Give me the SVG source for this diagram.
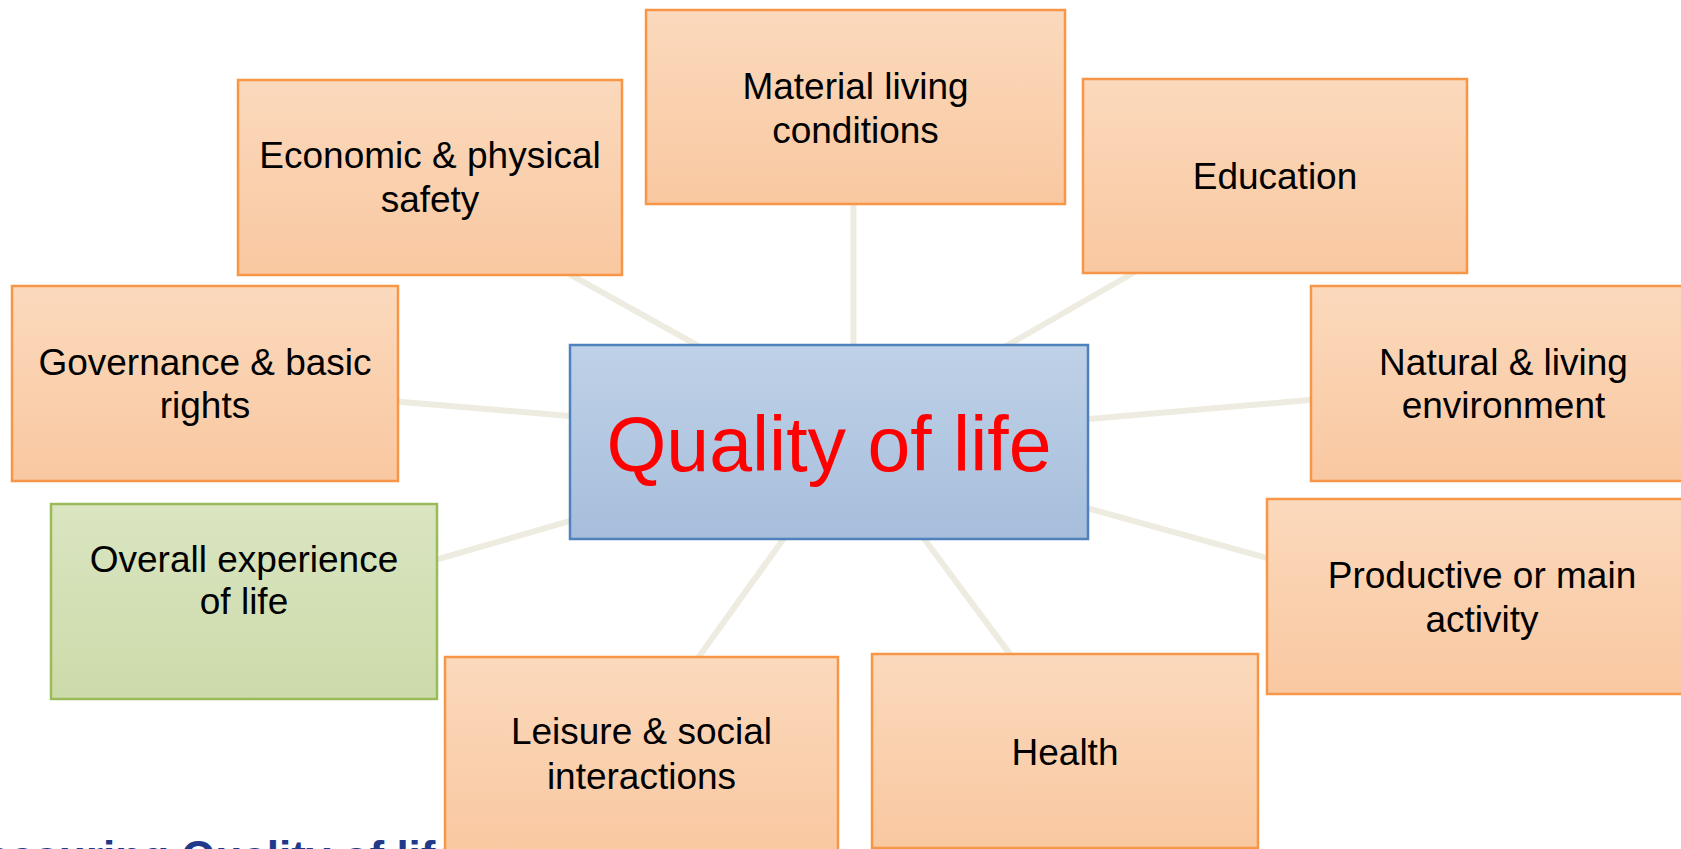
<svg xmlns="http://www.w3.org/2000/svg" width="1681" height="849" viewBox="0 0 1681 849">
<defs>
<linearGradient id="gOrange" x1="0" y1="0" x2="0" y2="1">
<stop offset="0" stop-color="#FBD9BC"/>
<stop offset="1" stop-color="#F9C8A1"/>
</linearGradient>
<linearGradient id="gBlue" x1="0" y1="0" x2="0" y2="1">
<stop offset="0" stop-color="#BFD1E7"/>
<stop offset="1" stop-color="#A6BEDC"/>
</linearGradient>
<linearGradient id="gGreen" x1="0" y1="0" x2="0" y2="1">
<stop offset="0" stop-color="#DAE5C1"/>
<stop offset="1" stop-color="#CCDBAA"/>
</linearGradient>
<style>
.conn{stroke:#EEECE1;stroke-width:6;fill:none}
.orange{fill:url(#gOrange);stroke:#F79646;stroke-width:2.5}
.blue{fill:url(#gBlue);stroke:#4F81BD;stroke-width:2.5}
.green{fill:url(#gGreen);stroke:#9BBB59;stroke-width:2.5}
.lbl{font-family:"Liberation Sans",Arial,sans-serif;font-size:37px;fill:#000;text-anchor:middle}
.main{font-family:"Liberation Sans",Arial,sans-serif;font-size:77px;fill:#FF0000;text-anchor:middle}
.title{font-family:"Liberation Sans",Arial,sans-serif;font-size:44px;font-weight:bold;fill:#1F3A8A}
</style>
</defs>
<rect width="1681" height="849" fill="#FFFFFF"/>
<text class="title" x="-51" y="872">Measuring Quality of life</text>
<g id="connectors">
<line class="conn" x1="565" y1="271.7" x2="705" y2="349.6"/>
<line class="conn" x1="853.5" y1="200" x2="853.5" y2="350"/>
<line class="conn" x1="1140" y1="269" x2="1000" y2="349.6"/>
<line class="conn" x1="390" y1="401" x2="578" y2="416.7"/>
<line class="conn" x1="430" y1="561.4" x2="578" y2="518.7"/>
<line class="conn" x1="1080" y1="419.7" x2="1320" y2="399.1"/>
<line class="conn" x1="1080" y1="506.1" x2="1275" y2="560.2"/>
<line class="conn" x1="788" y1="532.6" x2="694" y2="663.4"/>
<line class="conn" x1="920" y1="533.3" x2="1014" y2="659.6"/>
</g>
<g id="center">
<rect class="blue" x="570" y="345" width="518" height="194"/>
<text class="main" x="829" y="471">Quality of life</text>
</g>
<g id="economic">
<rect class="orange" x="238" y="80" width="384" height="195"/>
<text class="lbl" x="430" y="168">Economic &amp; physical</text>
<text class="lbl" x="430" y="212">safety</text>
</g>
<g id="material">
<rect class="orange" x="646" y="10" width="419" height="194"/>
<text class="lbl" x="855.5" y="98.5">Material living</text>
<text class="lbl" x="855.5" y="142.5">conditions</text>
</g>
<g id="education">
<rect class="orange" x="1083" y="79" width="384" height="194"/>
<text class="lbl" x="1275" y="189">Education</text>
</g>
<g id="governance">
<rect class="orange" x="12" y="286" width="386" height="195"/>
<text class="lbl" x="205" y="375">Governance &amp; basic</text>
<text class="lbl" x="205" y="418">rights</text>
</g>
<g id="natural">
<rect class="orange" x="1311" y="286" width="385" height="195"/>
<text class="lbl" x="1503.5" y="375">Natural &amp; living</text>
<text class="lbl" x="1503.5" y="418">environment</text>
</g>
<g id="overall">
<rect class="green" x="51" y="504" width="386" height="195"/>
<text class="lbl" x="244" y="572">Overall experience</text>
<text class="lbl" x="244" y="614">of life</text>
</g>
<g id="productive">
<rect class="orange" x="1267" y="499" width="430" height="195"/>
<text class="lbl" x="1482" y="588">Productive or main</text>
<text class="lbl" x="1482" y="632">activity</text>
</g>
<g id="leisure">
<rect class="orange" x="445" y="657" width="393" height="196"/>
<text class="lbl" x="641.5" y="744">Leisure &amp; social</text>
<text class="lbl" x="641.5" y="789">interactions</text>
</g>
<g id="health">
<rect class="orange" x="872" y="654" width="386" height="194"/>
<text class="lbl" x="1065" y="765">Health</text>
</g>
</svg>
